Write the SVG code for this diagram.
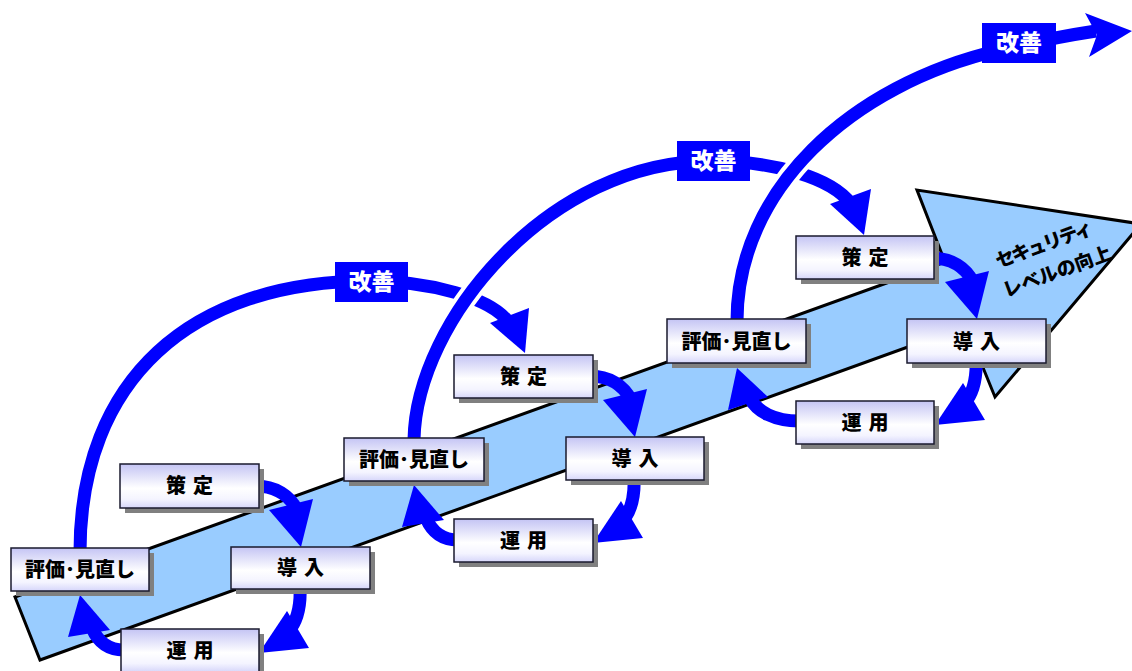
<svg xmlns="http://www.w3.org/2000/svg" width="1132" height="671" viewBox="0 0 1132 671">
<defs>
<linearGradient id="boxg" x1="0" y1="0" x2="0" y2="1">
<stop offset="0" stop-color="#c4c4f4"/>
<stop offset="0.55" stop-color="#ffffff"/>
<stop offset="0.8" stop-color="#f4f4ff"/>
<stop offset="1" stop-color="#d6d6fa"/>
</linearGradient>
<style>
.shaft{fill:#99ccff;stroke:#000;stroke-width:3;stroke-linejoin:miter}
.band{fill:none;stroke:#0000ff;stroke-width:13}
.halo{fill:none;stroke:#ffffff;stroke-width:21}
.head{fill:#0000ff}
.shadow{fill:#808080}
.box{fill:url(#boxg);stroke:#1a1a2e;stroke-width:1.5}
.lbl{font-family:"Noto Sans CJK JP","Noto Sans CJK SC",sans-serif;font-weight:900;font-size:20px;fill:#000;text-anchor:middle}
.two{letter-spacing:7px}
.kz{fill:#0000ff}
.kzt{font-family:"Noto Sans CJK JP","Noto Sans CJK SC",sans-serif;font-weight:900;font-size:23px;fill:#fff;text-anchor:middle}
.lvl{font-family:"Noto Sans CJK JP","Noto Sans CJK SC",sans-serif;font-weight:900;font-size:19px;fill:#000;text-anchor:middle}
</style>
</defs>
<rect x="0" y="0" width="1132" height="671" fill="#fff"/>

<g id="level-arrow">
<polygon class="shaft" points="15,597 945,262 917,190 1141,224 995,397 966,326 40,660"/>
<g transform="translate(1044,244) rotate(-20)">
<text class="lvl" x="0" y="7" textLength="102" lengthAdjust="spacing">セキュリティ</text>
<text class="lvl" x="3" y="37">レベルの向上</text>
</g>
</g>

<g id="connectors">
<!-- cycle 1 improvement arc -->
<path class="band" d="M 80 552 C 80 380, 190 281, 370 281 C 430 281, 492 298, 509 323"/>
<polygon class="head" points="490,323 529,308 525,353"/>
<!-- cycle 2 improvement arc -->
<path class="halo" d="M 414 440 C 416 320, 550 161, 710 161"/>
<path class="band" d="M 414 440 C 416 320, 550 161, 710 161 C 775 161, 832 178, 851 204"/>
<polygon class="head" points="830,204 871,189 864,235"/>
<!-- cycle 3 improvement arc -->
<path class="halo" d="M 737 321 C 737 190, 850 85, 1000 50"/>
<path class="band" d="M 737 321 C 737 190, 850 85, 1000 50 Q 1050 38, 1096 31"/>
<polygon class="head" points="1085,13 1132,31 1089,57 1097,35"/>

<!-- cycle 1 small arrows -->
<g id="c1-arrows">
<path class="band" d="M 255 486 C 276 486, 290 496, 297 510"/>
<polygon class="head" points="269,510 313,499 301,547"/>
<path class="band" d="M 300 586 C 301 606, 298 618, 291 628"/>
<polygon class="head" points="287,611 309,648 259,653"/>
<path class="band" d="M 124 650 C 108 650, 98 642, 92 628"/>
<polygon class="head" points="68,637 110,630 80,595"/>
</g>
<!-- cycle 2 small arrows -->
<g transform="translate(334,-110)">
<path class="band" d="M 255 486 C 276 486, 290 496, 297 510"/>
<polygon class="head" points="269,510 313,499 301,547"/>
<path class="band" d="M 300 586 C 301 606, 298 618, 291 628"/>
<polygon class="head" points="287,611 309,648 259,653"/>
<path class="band" d="M 124 650 C 108 650, 98 642, 92 628"/>
<polygon class="head" points="68,637 110,630 80,595"/>
</g>
<!-- cycle 3 small arrows -->
<g transform="translate(676,-228)">
<path class="band" d="M 255 486 C 276 486, 290 496, 297 510"/>
<polygon class="head" points="269,510 313,499 301,547"/>
<path class="band" d="M 300 586 C 301 606, 298 618, 291 628"/>
<polygon class="head" points="287,611 309,648 259,653"/>
</g>
<path class="band" d="M 799 421 C 775 421, 757 412, 750 398"/>
<polygon class="head" points="728,410 768,397 737,368"/>
</g>

<g id="kaizen-1"><rect class="kz" x="335" y="262" width="73" height="40"/><text class="kzt" x="371.5" y="290">改善</text></g>
<g id="kaizen-2"><rect class="kz" x="677" y="141" width="73" height="40"/><text class="kzt" x="713.5" y="169">改善</text></g>
<g id="kaizen-3"><rect class="kz" x="982" y="23" width="74" height="40"/><text class="kzt" x="1019" y="51">改善</text></g>

<g id="c1-sakutei"><rect class="shadow" x="125" y="469" width="139" height="44"/><rect class="box" x="120" y="464" width="139" height="44"/><text class="lbl two" x="193" y="493">策定</text></g>
<g id="c1-hyouka"><rect class="shadow" x="16" y="553" width="138" height="43"/><rect class="box" x="11" y="548" width="138" height="43"/><text class="lbl" x="80" y="577">評価･見直し</text></g>
<g id="c1-dounyu"><rect class="shadow" x="236" y="552" width="139" height="42"/><rect class="box" x="231" y="547" width="139" height="42"/><text class="lbl two" x="304" y="575">導入</text></g>
<g id="c1-unyou"><rect class="shadow" x="126" y="634" width="138" height="43"/><rect class="box" x="121" y="629" width="138" height="43"/><text class="lbl two" x="193.5" y="658">運用</text></g>

<g id="c2-sakutei"><rect class="shadow" x="459" y="360" width="139" height="43"/><rect class="box" x="454" y="355" width="139" height="43"/><text class="lbl two" x="527" y="384">策定</text></g>
<g id="c2-hyouka"><rect class="shadow" x="349" y="443" width="140" height="43"/><rect class="box" x="344" y="438" width="140" height="43"/><text class="lbl" x="414" y="467">評価･見直し</text></g>
<g id="c2-dounyu"><rect class="shadow" x="571" y="442" width="138" height="43"/><rect class="box" x="566" y="437" width="138" height="43"/><text class="lbl two" x="638.5" y="466">導入</text></g>
<g id="c2-unyou"><rect class="shadow" x="459" y="524" width="139" height="43"/><rect class="box" x="454" y="519" width="139" height="43"/><text class="lbl two" x="527" y="548">運用</text></g>

<g id="c3-sakutei"><rect class="shadow" x="801" y="241" width="138" height="43"/><rect class="box" x="796" y="236" width="138" height="43"/><text class="lbl two" x="868.5" y="265">策定</text></g>
<g id="c3-hyouka"><rect class="shadow" x="672" y="324" width="139" height="44"/><rect class="box" x="667" y="319" width="139" height="44"/><text class="lbl" x="736.5" y="348.5">評価･見直し</text></g>
<g id="c3-dounyu"><rect class="shadow" x="912" y="324" width="139" height="44"/><rect class="box" x="907" y="319" width="139" height="44"/><text class="lbl two" x="980" y="348.5">導入</text></g>
<g id="c3-unyou"><rect class="shadow" x="801" y="406" width="138" height="43"/><rect class="box" x="796" y="401" width="138" height="43"/><text class="lbl two" x="868.5" y="430">運用</text></g>
</svg>
